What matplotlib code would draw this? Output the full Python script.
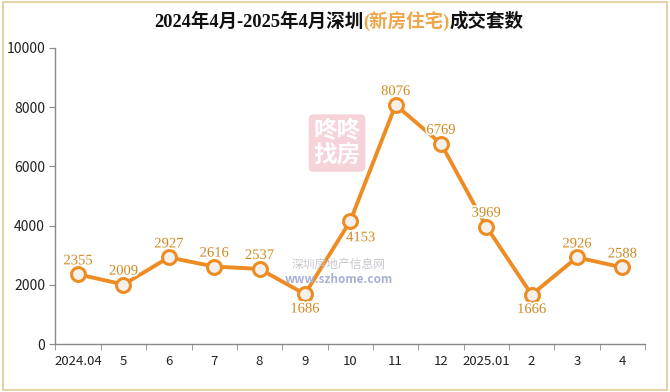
import matplotlib
matplotlib.use("Agg")
import matplotlib.pyplot as plt
import matplotlib.patheffects as pe
from matplotlib.patches import Rectangle

plt.rcParams['font.family'] = ['Noto Sans CJK SC', 'DejaVu Sans']

months = ["2024.04", "5", "6", "7", "8", "9", "10", "11", "12", "2025.01", "2", "3", "4"]
values = [2355, 2009, 2927, 2616, 2537, 1686, 4153, 8076, 6769, 3969, 1666, 2926, 2588]
yticks = [0, 2000, 4000, 6000, 8000, 10000]
# label placement: 'up', 'down', 'right'
label_pos = ["up", "up", "up", "up", "up", "down", "right", "up", "up", "up", "down", "up", "up"]
title_parts = ["2024年4月-2025年4月深圳", "(新房住宅)", "成交套数"]
title_colors = ["#111111", "#EFA64A", "#111111"]

line_color = "#EE8C24"
label_color = "#D08A20"

fig = plt.figure(figsize=(6.7, 3.92), dpi=100)
ax = fig.add_axes([0.0828, 0.1224, 0.8799, 0.7552])

# watermark (behind)
fig.text(0.503, 0.635, "咚咚\n找房", ha="center", va="center", fontsize=17,
         color="white", fontweight="bold", linespacing=1.0, zorder=0,
         bbox=dict(boxstyle="round,pad=0.2", fc="#F6D3D8", ec="none"))
fig.text(0.505, 0.325, "深圳房地产信息网", ha="center", va="center", fontsize=8.5,
         color="#C8C8D0", style="italic", zorder=0)
fig.text(0.505, 0.287, "www.szhome.com", ha="center", va="center", fontsize=8.5,
         color="#A8B0D8", style="italic", fontweight="bold", zorder=0)
ax.patch.set_alpha(0)

x = list(range(len(values)))
ax.plot(x, values, color=line_color, lw=2.8, marker="o", ms=10,
        markerfacecolor="#F4F0EC", markeredgecolor=line_color, mew=2.2, zorder=3)

halo = [pe.withStroke(linewidth=2.5, foreground="white")]
lab_font = ["Liberation Serif", "DejaVu Serif"]
for i, v in enumerate(values):
    p = label_pos[i]
    if p == "up":
        xy, ha, va = (0, 5), "center", "bottom"
    elif p == "down":
        xy, ha, va = (0, -6), "center", "top"
    else:
        xy, ha, va = (-3, -12), "left", "center"
    ax.annotate(str(v), (i, v), xytext=xy, textcoords="offset points",
                ha=ha, va=va, color=label_color, fontsize=10.5,
                family=lab_font, path_effects=halo, zorder=4)

ax.set_xlim(-0.5, len(values) - 0.5)
ax.set_ylim(0, 10000)
ax.set_yticks(yticks)
ax.set_yticklabels([str(t) for t in yticks], fontsize=10, color="#222222")
ax.set_xticks(x)
ax.set_xticklabels(months, fontsize=9.5, color="#222222")
ax.set_xticks([i + 0.5 for i in range(-1, len(values))], minor=True)
ax.tick_params(axis="x", which="major", length=0, pad=8)
ax.tick_params(axis="x", which="minor", length=4, color="#888888", direction="out")
ax.tick_params(axis="y", length=4, color="#888888", direction="out")
for s in ["top", "right"]:
    ax.spines[s].set_visible(False)
for s in ["left", "bottom"]:
    ax.spines[s].set_color("#888888")
    ax.spines[s].set_linewidth(1)

# title, concatenated pieces
r = fig.canvas.get_renderer()
title_font = ["Liberation Serif", "Noto Sans CJK SC"]
texts = []
xpos = 0.0
for part, c in zip(title_parts, title_colors):
    t = fig.text(xpos, 0.945, part, ha="left", va="center", fontsize=13.3,
                 fontweight="bold", color=c, family=title_font)
    w = t.get_window_extent(renderer=r).width / fig.bbox.width
    texts.append((t, xpos))
    xpos += w
total = xpos
start = 0.506 - total / 2
for t, off in texts:
    t.set_x(start + off)

# border
fig.patches.append(Rectangle((0.004, 0.006), 0.992, 0.988, transform=fig.transFigure,
                             fill=False, edgecolor="#E3D3A8", lw=1.5))

fig.savefig("out.png", dpi=100)
